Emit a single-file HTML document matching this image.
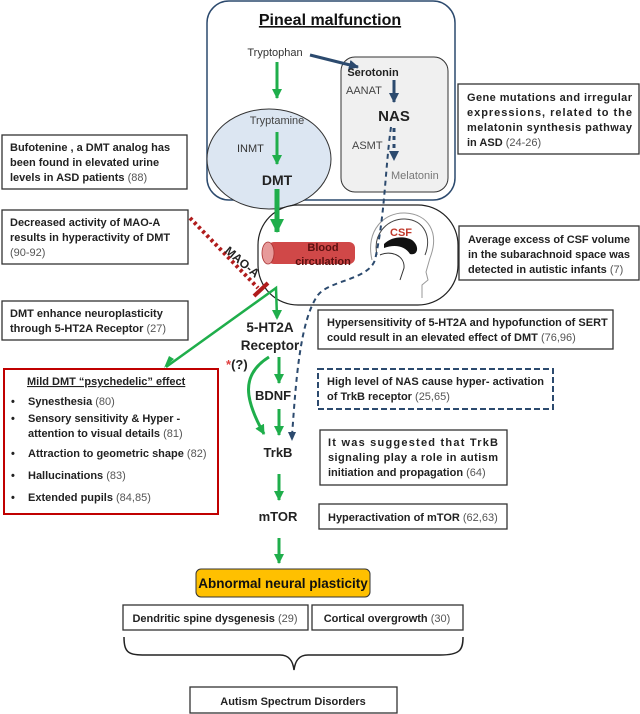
<!DOCTYPE html>
<html><head><meta charset="utf-8"><style>
html,body{margin:0;padding:0;background:#fff}
svg{display:block}
text{font-family:"Liberation Sans",sans-serif}
.b{font-weight:bold;font-size:11px;fill:#222}
.c{font-weight:normal;fill:#555}
</style></head><body>
<svg width="640" height="714" viewBox="0 0 640 714" xmlns="http://www.w3.org/2000/svg">
<defs>
<marker id="g" markerWidth="10" markerHeight="10" refX="9" refY="5" orient="auto" markerUnits="userSpaceOnUse"><path d="M0,0 L10,5 L0,10 z" fill="#1fae4b"/></marker>
<marker id="gb" markerWidth="14" markerHeight="14" refX="13" refY="7" orient="auto" markerUnits="userSpaceOnUse"><path d="M0,0 L14,7 L0,14 z" fill="#1fae4b"/></marker>
<marker id="bl" markerWidth="10" markerHeight="10" refX="9" refY="5" orient="auto" markerUnits="userSpaceOnUse"><path d="M0,0 L10,5 L0,10 z" fill="#2c4a6e"/></marker>
</defs>
<!-- pineal box -->
<rect x="207" y="1" width="248" height="199" rx="22" fill="#fff" stroke="#2c4a6e" stroke-width="1.5"/>
<text x="330" y="25" text-anchor="middle" font-weight="bold" font-size="16" fill="#111" text-decoration="underline">Pineal malfunction</text>
<rect x="341" y="57" width="107" height="135" rx="14" fill="#f0f0f0" stroke="#333" stroke-width="1"/>
<ellipse cx="269" cy="159" rx="62" ry="50" fill="#dce6f2" stroke="#333" stroke-width="1"/>
<text x="275" y="56" text-anchor="middle" font-size="11" fill="#333">Tryptophan</text>
<line x1="310" y1="55" x2="358" y2="67" stroke="#2c4a6e" stroke-width="3" marker-end="url(#bl)"/>
<text x="373" y="76" text-anchor="middle" font-size="11" font-weight="bold" fill="#222">Serotonin</text>
<text x="346" y="94" font-size="11" fill="#444">AANAT</text>
<text x="394" y="121" text-anchor="middle" font-size="15" font-weight="bold" fill="#222">NAS</text>
<text x="352" y="149" font-size="11" fill="#444">ASMT</text>
<text x="391" y="179" font-size="11" fill="#777">Melatonin</text>
<line x1="394" y1="80" x2="394" y2="102" stroke="#2c4a6e" stroke-width="3" marker-end="url(#bl)"/>
<line x1="394" y1="128" x2="394" y2="160" stroke="#2c4a6e" stroke-width="3" stroke-dasharray="4,4" marker-end="url(#bl)"/>
<text x="277" y="124" text-anchor="middle" font-size="11" fill="#444">Tryptamine</text>
<text x="237" y="152" font-size="11" fill="#333">INMT</text>
<text x="277" y="185" text-anchor="middle" font-size="14" font-weight="bold" fill="#222">DMT</text>
<line x1="277" y1="62" x2="277" y2="98" stroke="#1fae4b" stroke-width="3" marker-end="url(#g)"/>
<line x1="277" y1="132" x2="277" y2="164" stroke="#1fae4b" stroke-width="3" marker-end="url(#g)"/>
<!-- blood/CSF box -->
<rect x="258" y="205" width="200" height="100" rx="40" fill="#fff" stroke="#222" stroke-width="1.2"/>
<line x1="277" y1="189" x2="277" y2="232" stroke="#1fae4b" stroke-width="5" marker-end="url(#gb)"/>
<rect x="268" y="242" width="87" height="22" rx="6" fill="#d04848"/>
<ellipse cx="268" cy="253" rx="6" ry="11" fill="#e79a9a" stroke="#a33" stroke-width="0.8"/>
<text x="323" y="251" text-anchor="middle" font-size="11" font-weight="bold" fill="#5a1010">Blood</text>
<text x="323" y="265" text-anchor="middle" font-size="11" font-weight="bold" fill="#5a1010">circulation</text>
<!-- head -->
<path d="M372,260 C365,230 385,212 405,213 C428,214 440,232 430,258 L426,272 L428,280 L422,285 L422,298" fill="none" stroke="#999" stroke-width="1"/>
<path d="M377,255 C372,232 390,218 405,219 C425,220 432,238 425,255" fill="none" stroke="#444" stroke-width="1"/>
<path d="M384,244 C392,236 405,236 412,240 C420,246 418,256 410,254 C405,246 395,244 384,248 z" fill="#111"/>
<path d="M380,255 C390,250 405,255 404,268 L400,280" fill="none" stroke="#333" stroke-width="1"/>
<text x="401" y="236" text-anchor="middle" font-size="11" font-weight="bold" fill="#c0392b">CSF</text>
<!-- MAO-A -->
<line x1="190" y1="218" x2="258" y2="288" stroke="#b01c1c" stroke-width="4" stroke-dasharray="3,3"/>
<line x1="254" y1="296" x2="268" y2="283" stroke="#b01c1c" stroke-width="4"/>
<text x="0" y="0" transform="translate(224,252) rotate(40)" font-size="12" font-weight="bold" fill="#222">MAO-A</text>
<!-- green path -->
<polyline points="166,367 276,288 277,318" fill="none" stroke="#1fae4b" stroke-width="2.5"/>
<path d="M174,359 L164,368 L169,356 z" fill="#1fae4b"/>
<path d="M272,310 L277,320 L282,310 z" fill="#1fae4b"/>
<text x="270" y="332" text-anchor="middle" font-size="13.5" font-weight="bold" fill="#222">5-HT2A</text>
<text x="270" y="350" text-anchor="middle" font-size="13.5" font-weight="bold" fill="#222">Receptor</text>
<text x="226" y="369" font-size="13" font-weight="bold" fill="#222"><tspan fill="#e04040">*</tspan>(?)</text>
<line x1="279" y1="357" x2="279" y2="383" stroke="#1fae4b" stroke-width="3" marker-end="url(#g)"/>
<text x="273" y="400" text-anchor="middle" font-size="13" font-weight="bold" fill="#222">BDNF</text>
<line x1="279" y1="409" x2="279" y2="435" stroke="#1fae4b" stroke-width="3" marker-end="url(#g)"/>
<path d="M269,357 C240,375 245,400 264,434" fill="none" stroke="#1fae4b" stroke-width="3" marker-end="url(#g)"/>
<text x="278" y="457" text-anchor="middle" font-size="13" font-weight="bold" fill="#222">TrkB</text>
<line x1="279" y1="474" x2="279" y2="500" stroke="#1fae4b" stroke-width="3" marker-end="url(#g)"/>
<text x="278" y="521" text-anchor="middle" font-size="13" font-weight="bold" fill="#222">mTOR</text>
<line x1="279" y1="538" x2="279" y2="563" stroke="#1fae4b" stroke-width="3" marker-end="url(#g)"/>
<!-- blue dashed -->
<path d="M391,127 C385,170 385,215 375,260 C368,280 330,280 318,295 C300,320 296,380 292,436" fill="none" stroke="#2c4a6e" stroke-width="2" stroke-dasharray="5,4"/>
<path d="M288,432 L292,441 L296,432 z" fill="#2c4a6e"/>
<!-- boxes -->
<g fill="#fff" stroke="#333" stroke-width="1.3">
<rect x="2" y="135" width="185" height="54"/>
<rect x="2" y="210" width="186" height="54"/>
<rect x="2" y="301" width="186" height="39"/>
<rect x="458" y="84" width="181" height="70"/>
<rect x="459" y="226" width="180" height="54"/>
<rect x="318" y="310" width="295" height="39"/>
<rect x="320" y="430" width="187" height="55"/>
<rect x="319" y="504" width="188" height="25"/>
<rect x="123" y="605" width="185" height="25"/>
<rect x="312" y="605" width="151" height="25"/>
<rect x="190" y="687" width="207" height="26"/>
</g>
<rect x="4" y="369" width="214" height="145" fill="#fff" stroke="#c00000" stroke-width="2"/>
<rect x="318" y="369" width="235" height="40" fill="#fff" stroke="#2c4a6e" stroke-width="2" stroke-dasharray="6,3"/>
<text class="b"><tspan x="10" y="151">Bufotenine , a DMT analog has</tspan><tspan x="10" y="166">been found in elevated urine</tspan><tspan x="10" y="181">levels in ASD patients <tspan class="c">(88)</tspan></tspan></text>
<text class="b"><tspan x="10" y="226">Decreased activity of MAO-A</tspan><tspan x="10" y="241">results in hyperactivity of DMT</tspan><tspan x="10" y="256" class="c">(90-92)</tspan></text>
<text class="b"><tspan x="10" y="317">DMT enhance neuroplasticity</tspan><tspan x="10" y="332">through 5-HT2A Receptor <tspan class="c">(27)</tspan></tspan></text>
<text class="b" text-decoration="underline"><tspan x="27" y="385">Mild DMT “psychedelic” effect</tspan></text>
<text class="b">
<tspan x="11" y="405">•</tspan><tspan x="28" y="405">Synesthesia <tspan class="c">(80)</tspan></tspan>
<tspan x="11" y="422">•</tspan><tspan x="28" y="422">Sensory sensitivity &amp; Hyper -</tspan>
<tspan x="28" y="437">attention to visual details <tspan class="c">(81)</tspan></tspan>
<tspan x="11" y="457">•</tspan><tspan x="28" y="457">Attraction to geometric shape <tspan class="c">(82)</tspan></tspan>
<tspan x="11" y="479">•</tspan><tspan x="28" y="479">Hallucinations <tspan class="c">(83)</tspan></tspan>
<tspan x="11" y="501">•</tspan><tspan x="28" y="501">Extended pupils <tspan class="c">(84,85)</tspan></tspan>
</text>
<text class="b"><tspan x="467" y="101" textLength="165" lengthAdjust="spacing">Gene mutations and irregular</tspan><tspan x="467" y="116" textLength="165" lengthAdjust="spacing">expressions, related to the</tspan><tspan x="467" y="131" textLength="165" lengthAdjust="spacing">melatonin synthesis pathway</tspan><tspan x="467" y="146">in ASD <tspan class="c">(24-26)</tspan></tspan></text>
<text class="b"><tspan x="468" y="243" textLength="162" lengthAdjust="spacing">Average excess of CSF volume</tspan><tspan x="468" y="258" textLength="162" lengthAdjust="spacing">in the subarachnoid space was</tspan><tspan x="468" y="273">detected in autistic infants <tspan class="c">(7)</tspan></tspan></text>
<text class="b"><tspan x="327" y="326">Hypersensitivity of 5-HT2A and hypofunction of SERT</tspan><tspan x="327" y="341">could result in an elevated effect of DMT <tspan class="c">(76,96)</tspan></tspan></text>
<text class="b"><tspan x="327" y="385">High level of NAS cause hyper- activation</tspan><tspan x="327" y="400">of TrkB receptor <tspan class="c">(25,65)</tspan></tspan></text>
<text class="b"><tspan x="328" y="446" textLength="170" lengthAdjust="spacing">It was suggested that TrkB</tspan><tspan x="328" y="461" textLength="170" lengthAdjust="spacing">signaling play a role in autism</tspan><tspan x="328" y="476">initiation and propagation <tspan class="c">(64)</tspan></tspan></text>
<text class="b"><tspan x="328" y="521">Hyperactivation of mTOR <tspan class="c">(62,63)</tspan></tspan></text>
<rect x="196" y="569" width="174" height="28" rx="5" fill="#ffc000" stroke="#333" stroke-width="1"/>
<text x="283" y="588" text-anchor="middle" font-size="13.5" font-weight="bold" fill="#111">Abnormal neural plasticity</text>
<text class="b" x="215" y="622" text-anchor="middle">Dendritic spine dysgenesis <tspan class="c">(29)</tspan></text>
<text class="b" x="387" y="622" text-anchor="middle">Cortical overgrowth <tspan class="c">(30)</tspan></text>
<path d="M124,637 C124,655 130,655 150,655 L280,655 C290,655 293,662 294,670 C295,662 298,655 308,655 L440,655 C460,655 463,650 463,637" fill="none" stroke="#222" stroke-width="1.5"/>
<text class="b" x="293" y="705" text-anchor="middle">Autism Spectrum Disorders</text>
</svg>
</body></html>
